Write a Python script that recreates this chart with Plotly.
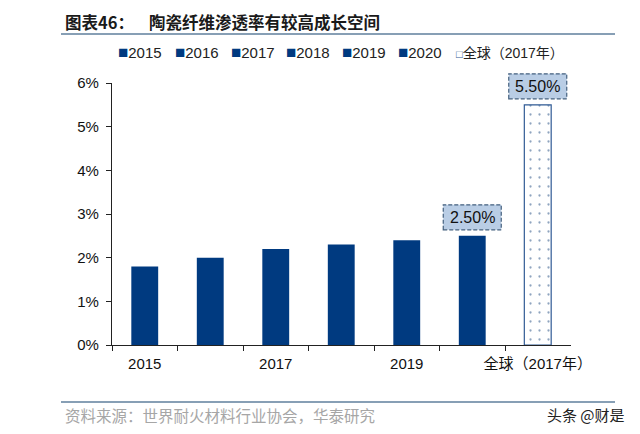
import plotly.graph_objects as go

# values
categories = ["2015", "2016", "2017", "2018", "2019", "2020", "全球（2017年）"]
values = [1.8, 2.0, 2.2, 2.3, 2.4, 2.5, 5.5]
tick_labels = ["2015", "", "2017", "", "2019", "", "全球（2017年）"]
y_ticks = [0, 1, 2, 3, 4, 5, 6]
labelled = {"2020": "2.50%", "全球（2017年）": "5.50%"}
legend_left = [116, 172.5, 229, 284, 340, 396, 454]

W, H = 640, 434
NAVY = "#003a80"
FONT = "Liberation Sans, Arial"
CJK = "Noto Sans CJK SC"
Y_DOMAIN = [1 - 345 / H, 1 - 83 / H]

fig = go.Figure()

for cat, val in zip(categories, values):
    if cat.startswith("全球"):
        fig.add_bar(x=[cat], y=[val], name=cat, width=0.41,
                    marker=dict(color="white", line=dict(color="#2f5a94", width=1.2),
                                pattern=dict(shape=".", fgcolor="#1f4a80", bgcolor="white",
                                             size=9, solidity=0.05)))
    else:
        fig.add_bar(x=[cat], y=[val], name=cat, width=0.41, marker=dict(color=NAVY, line_width=0))

# dashed label boxes sit on top of the two labelled bars
# (y goes through paper coords, a y-ref shape gets clipped at the top of the axis)
for cat, txt in labelled.items():
    i = categories.index(cat)
    top = Y_DOMAIN[0] + values[i] / y_ticks[-1] * (Y_DOMAIN[1] - Y_DOMAIN[0])
    fig.add_shape(type="rect", xref="x", yref="paper", xsizemode="pixel", ysizemode="pixel",
                  xanchor=i, yanchor=top, x0=-29, x1=29, y0=6, y1=31,
                  fillcolor="#b9cde5", line=dict(color="#44607f", width=1.2, dash="4px,2px"))
    fig.add_annotation(x=i, y=values[i], text=txt, showarrow=False, yanchor="middle", yshift=18.5,
                       font=dict(family=FONT, size=16, color="#111111"))

# legend drawn as text so the entries sit as tight as in the picture
for cat, left in zip(categories, legend_left):
    if cat.startswith("全球"):
        box = '<span style="color:#2f5a94;font-size:11px">□</span>'
        size = 14
    else:
        box = '<span style="color:#003a80;font-size:17px">■</span>'
        size = 15
    fig.add_annotation(xref="paper", yref="paper", x=left / W, y=1 - 53 / H, text=box + cat,
                       showarrow=False, xanchor="left", yanchor="middle",
                       font=dict(family=FONT + ", " + CJK, size=size, color="#222222"))

# title, rules and source line
fig.add_annotation(xref="paper", yref="paper", x=63 / W, y=1 - 22 / H, text="<b>图表46：    陶瓷纤维渗透率有较高成长空间</b>",
                   showarrow=False, xanchor="left", yanchor="middle", font=dict(family=CJK, size=16.5, color="#1a1a1a"))
fig.add_annotation(xref="paper", yref="paper", x=63 / W, y=1 - 415 / H, text="资料来源：世界耐火材料行业协会，华泰研究",
                   showarrow=False, xanchor="left", yanchor="middle", font=dict(family=CJK, size=15.5, color="#a6a6a6"))
fig.add_annotation(xref="paper", yref="paper", x=627 / W, y=1 - 414 / H, text="头条 @财是",
                   showarrow=False, xanchor="right", yanchor="middle", font=dict(family=CJK, size=15, color="#222222"))
for ypx in [34, 402]:
    fig.add_shape(type="line", xref="paper", yref="paper", x0=61 / W, x1=615 / W, y0=1 - ypx / H, y1=1 - ypx / H,
                  line=dict(color="#5f7f9c", width=1.5))

fig.update_xaxes(
    domain=[112 / W, 570.5 / W],
    type="category",
    categoryorder="array",
    categoryarray=categories,
    range=[-0.5, 6.5],
    tickmode="array",
    tickvals=categories,
    ticktext=tick_labels,
    tickangle=0,
    tickson="boundaries",
    ticks="outside",
    ticklen=5,
    ticklabelstandoff=5,
    tickcolor="#222222",
    showline=True,
    linecolor="#222222",
    linewidth=1.2,
    showgrid=False,
    automargin=False,
    tickfont=dict(family=FONT + ", " + CJK, size=15, color="#111111"),
)
fig.update_yaxes(
    domain=Y_DOMAIN,
    range=[0, 6],
    tickmode="array",
    tickvals=y_ticks,
    ticktext=[f"{t}%" for t in y_ticks],
    ticks="outside",
    ticklen=5,
    ticklabelstandoff=4,
    tickcolor="#222222",
    showline=True,
    linecolor="#222222",
    linewidth=1.2,
    showgrid=False,
    automargin=False,
    tickfont=dict(family=FONT, size=15, color="#111111"),
)

fig.update_layout(
    width=W,
    height=H,
    margin=dict(l=0, r=0, t=0, b=0),
    paper_bgcolor="white",
    plot_bgcolor="white",
    barmode="overlay",
    showlegend=False,
)

# the page's default body margin would push everything 8px off
fig.write_html("out.html", config={"displayModeBar": False}, post_script="document.body.style.margin='0';")
